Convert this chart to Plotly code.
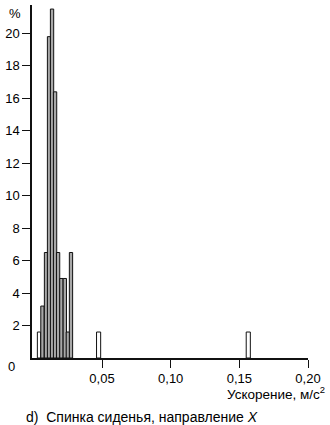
import plotly.graph_objects as go

# Histogram bins (bin centre, m/s^2) and share (%)
cluster_x = [0.0041, 0.0066, 0.0092, 0.0114, 0.0136, 0.0158, 0.0180, 0.0204, 0.0229, 0.0251, 0.0274]
cluster_pct = [1.6, 3.2, 6.5, 19.8, 21.5, 16.4, 6.5, 4.9, 4.9, 1.6, 6.5]
outlier_x = [0.0475, 0.1565]
outlier_pct = [1.6, 1.6]

x_tickvals = [0.05, 0.10, 0.15, 0.20]
x_ticktext = ["0,05", "0,10", "0,15", "0,20"]
y_tickvals = [2, 4, 6, 8, 10, 12, 14, 16, 18, 20]
y_ticktext = [str(v) for v in y_tickvals]

FONT = "Liberation Sans, Arial, sans-serif"
INK = "#000000"

cluster_colors = ["#ffffff" if i == 0 else "#a8a8a8" for i in range(len(cluster_x))]

fig = go.Figure()
fig.add_trace(go.Bar(
    x=cluster_x, y=cluster_pct, width=[0.0024] * len(cluster_x),
    marker=dict(color=cluster_colors, line=dict(color="#111111", width=1)),
    showlegend=False, hoverinfo="skip",
))
fig.add_trace(go.Bar(
    x=outlier_x, y=outlier_pct, width=[0.003] * len(outlier_x),
    marker=dict(color="#ffffff", line=dict(color="#111111", width=1)),
    showlegend=False, hoverinfo="skip",
))

fig.update_layout(
    width=330, height=425,
    margin=dict(l=30, r=22, t=5, b=67),
    paper_bgcolor="white", plot_bgcolor="white",
    barmode="overlay",
    font=dict(family=FONT, size=13, color=INK),
    xaxis=dict(
        range=[-0.001, 0.2], showgrid=False, zeroline=False,
        showline=True, linecolor="#111111", linewidth=1.5,
        ticks="outside", ticklen=8, tickwidth=1.2, tickcolor="#111111",
        tickvals=x_tickvals, ticktext=x_ticktext,
        tickfont=dict(family=FONT, size=13, color=INK),
    ),
    yaxis=dict(
        range=[0, 21.75], showgrid=False, zeroline=False,
        showline=True, linecolor="#111111", linewidth=1.5,
        ticks="outside", ticklen=8, tickwidth=1.2, tickcolor="#111111",
        tickvals=y_tickvals, ticktext=y_ticktext,
        tickfont=dict(family=FONT, size=13, color=INK),
    ),
    annotations=[
        dict(text="%", xref="paper", yref="paper", x=-0.061, y=0.977,
             showarrow=False, xanchor="center", yanchor="middle",
             font=dict(family=FONT, size=13, color=INK)),
        dict(text="0", xref="paper", yref="paper", x=-0.074, y=-0.025,
             showarrow=False, xanchor="center", yanchor="middle",
             font=dict(family=FONT, size=13, color=INK)),
        dict(text="Ускорение, м/с<sup>2</sup>", xref="paper", yref="paper",
             x=1.068, y=-0.098, showarrow=False, xanchor="right", yanchor="middle",
             font=dict(family=FONT, size=13.5, color=INK)),
        dict(text="d)  Спинка сиденья, направление <i>X</i>", xref="paper", yref="paper",
             x=-0.029, y=-0.166, showarrow=False, xanchor="left", yanchor="middle",
             font=dict(family=FONT, size=14, color=INK)),
    ],
)

fig.write_html("out.html")
